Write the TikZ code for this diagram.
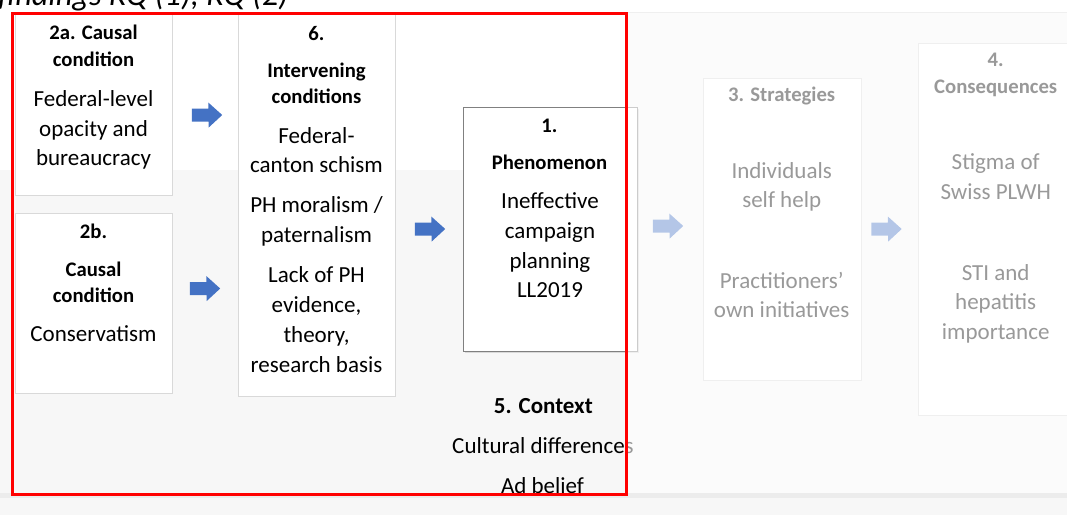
\documentclass[tikz,border=0pt]{standalone}
\usepackage{fontspec}
\setmainfont{Carlito}
\usetikzlibrary{shadows}

\definecolor{panel}{HTML}{F7F7F7}
\definecolor{band}{HTML}{ECECEC}
\definecolor{boxline}{HTML}{D9D9D9}
\definecolor{arrowblue}{HTML}{4472C4}
\definecolor{phenline}{HTML}{808080}

% block arrow filling an (invisible) 30x25 node, pointing right
\newcommand\fillblockarrow[1]{%
  \fill[arrowblue] ([shift={(0,-6.5)}]#1.west) -- ++(16.5,0) -- ++(0,-6)
    -- ([shift={(0,0)}]#1.east) -- ([shift={(-13.5,12.5)}]#1.east)
    -- ++(0,-6) -- ([shift={(0,6.5)}]#1.west) -- cycle;}

\begin{document}
\begin{tikzpicture}[x=1pt,y=-1pt,
  head/.style={font=\fontsize{20.7}{24}\selectfont\bfseries, anchor=base, inner sep=0pt},
  body/.style={font=\fontsize{23}{28}\selectfont, anchor=base, inner sep=0pt},
  ctxhead/.style={font=\fontsize{23}{28}\selectfont\bfseries, anchor=base, inner sep=0pt},
  card/.style={draw=boxline, fill=white, line width=0.9pt, inner sep=0pt},
  keycard/.style={draw=phenline, fill=white, line width=1pt, inner sep=0pt,
    drop shadow={shadow xshift=1.5pt, shadow yshift=-1.5pt, opacity=0.25}},
  arrowslot/.style={inner sep=0pt, minimum width=30pt, minimum height=25pt}
]
\useasboundingbox (0,0) rectangle (1067,515);
\clip (0,0) rectangle (1067,515);

% page and panel backgrounds
\fill[white] (0,0) rectangle (1067,515);
\fill[panel] (0,12) rectangle (1067,515);
\fill[white] (0,12) rectangle (627,170);
\draw[boxline, line width=1.2pt] (627,12.6) -- (1067,12.6);

% heading line above the panel
\node[font=\fontsize{32.3}{38}\selectfont\itshape, anchor=base west, inner sep=0pt]
  (title) at (-2,5.5) {findings RQ (1), RQ (2)};

% boxes
\node[card, minimum width=157pt, minimum height=181pt] (b2a) at (93.5,104.5) {};
\node[card, minimum width=157pt, minimum height=180pt] (b2b) at (93.5,303) {};
\node[card, minimum width=157pt, minimum height=382pt] (b6) at (316.5,205) {};
\node[keycard, minimum width=174pt, minimum height=244pt] (b1) at (550,229) {};
\node[card, minimum width=158pt, minimum height=302pt] (b3) at (782,229) {};
\node[card, minimum width=157pt, minimum height=372pt] (b4) at (996.5,229) {};

% block arrows
\node[arrowslot] (a1) at (207,115) {};
\node[arrowslot] (a2) at (205,288.5) {};
\node[arrowslot] (a3) at (430,229) {};
\node[arrowslot] (a4) at (668,226) {};
\node[arrowslot] (a5) at (886.5,229) {};
\fillblockarrow{a1}
\fillblockarrow{a2}
\fillblockarrow{a3}
\fillblockarrow{a4}
\fillblockarrow{a5}

% 2a
\node[head] (h2a1) at (93.5,39) {2a. Causal};
\node[head] (h2a2) at (93.5,66) {condition};
\node[body] (t2a1) at (93.5,106.5) {Federal-level};
\node[body] (t2a2) at (93.5,136) {opacity and};
\node[body] (t2a3) at (93.5,165.5) {bureaucracy};

% 2b
\node[head] (h2b1) at (93.5,238) {2b.};
\node[head] (h2b2) at (93.5,276) {Causal};
\node[head] (h2b3) at (93.5,302) {condition};
\node[body] (t2b1) at (93.5,341.5) {Conservatism};

% 6
\node[head] (h6a) at (316.5,40) {6.};
\node[head] (h6b) at (316.5,77) {Intervening};
\node[head] (h6c) at (316.5,103) {conditions};
\node[body] (t6a) at (316.5,143) {Federal-};
\node[body] (t6b) at (316.5,172.5) {canton schism};
\node[body] (t6c) at (316.5,212.7) {PH moralism /};
\node[body] (t6d) at (316.5,242.7) {paternalism};
\node[body] (t6e) at (316.5,282) {Lack of PH};
\node[body] (t6f) at (316.5,312) {evidence,};
\node[body] (t6g) at (316.5,342) {theory,};
\node[body] (t6h) at (316.5,372) {research basis};

% 1
\node[head] (h1a) at (549.5,132.7) {1.};
\node[head] (h1b) at (549.5,169.3) {Phenomenon};
\node[body] (t1a) at (550,208) {Ineffective};
\node[body] (t1b) at (550,238) {campaign};
\node[body] (t1c) at (550,268) {planning};
\node[body] (t1d) at (550,297.5) {LL2019};

% 3
\node[head] (h3) at (781.7,101.7) {3. Strategies};
\node[body] (t3a) at (781.7,178.3) {Individuals};
\node[body] (t3b) at (781.7,207.7) {self help};
\node[body] (t3c) at (781.7,288.3) {Practitioners’};
\node[body] (t3d) at (781.7,317.7) {own initiatives};

% 4
\node[head] (h4a) at (995.7,66) {4.};
\node[head] (h4b) at (995.7,93.3) {Consequences};
\node[body] (t4a) at (995.7,169.3) {Stigma of};
\node[body] (t4b) at (995.7,199.3) {Swiss PLWH};
\node[body] (t4c) at (995.7,280) {STI and};
\node[body] (t4d) at (995.7,309.3) {hepatitis};
\node[body] (t4e) at (995.7,339.3) {importance};

% 5
\node[ctxhead] (h5) at (543.3,413.3) {5. Context};
\node[body] (t5a) at (543,453.3) {Cultural differences};
\node[body] (t5b) at (542.5,493.3) {Ad belief};

% faded part of the panel
\fill[white, opacity=0.6] (628,0) rectangle (1067,493);

% lower band
\fill[band] (0,493) rectangle (1067,497.5);
\fill[panel] (0,497.5) rectangle (1067,515);

% highlight frame
\draw[red, line width=3pt] (12.5,13) rectangle (626.5,494.5);
\end{tikzpicture}
\end{document}
